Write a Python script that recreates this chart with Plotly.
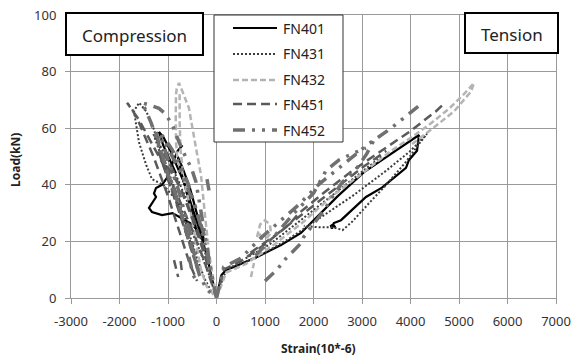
import plotly.graph_objects as go

N = None

# ---- data (strain in 10^-6, load in kN); None separates loading cycles ----
fn401_x = [0, -80, -200, -350, -500, -650, -800, -950, -1100, -1186, -1100, -1000, -900, -835, N,
           -300, -500, -700, -907, -1124, -1330, -1392, -1330, -1247, -1289, -1247, -1124, -1000, -900, -800, -700, N,
           -250, -400, -550, -700, -800, -720, -600, -480, -380, N,
           0, 100, 200, 361, 835, 1330, 1742, 2010, 2500, 3041, 3600, 4175, 4134, 3969, 3907, 3763, 3412, 3082,
           2732, 2567, 2420, 2381, 2360, 2400, 2450]
fn401_y = [0, 6, 15, 24, 32, 40, 46, 52, 57, 58.7, 54, 50, 46, 44, N,
           22, 26, 28, 30, 29.3, 30.4, 31.8, 33.6, 35.7, 37, 38.9, 40, 43, 48, 52, 54, N,
           20, 30, 39, 46, 50, 44, 36, 28, 22, N,
           0, 8, 10, 11, 14.5, 18.7, 23, 27.5, 36, 44.5, 51, 57.6, 52, 48.8, 46, 44, 39, 35.7,
           30, 27.5, 26.5, 24.5, 25.5, 26, 25]

fn431_x = [0, -150, -350, -600, -850, -1100, -1330, -1450, -1598, -1701, -1598, -1450, -1300, -1150, -1000,
           -850, -700, -550, -400, -250, -100, N,
           -200, -400, -600, -800, -1000, -1200, -1300, -1200, -1050, -900, -750, -600, -450, N,
           0, 150, 300, 800, 1500, 2200, 2800, 3500, 4000, 4340, 4200, 3900, 3500, 3144, 2800, 2600, 2400,
           2100, 1800, N,
           600, 1100, 1700, 2300, 2900, 3400]
fn431_y = [0, 8, 17, 27, 35, 40, 42, 47, 55, 66, 69, 66, 60, 52, 45,
           38, 30, 22, 14, 7, 2, N,
           14, 25, 34, 42, 49, 55, 58, 53, 46, 39, 31, 23, 15, N,
           0, 8, 11, 14, 21, 29, 36, 45, 52, 58, 55, 48, 40, 33.5, 27, 24, 25,
           25, 25.5, N,
           14, 19, 27, 35, 43, 50]

fn432_x = [0, -80, -155, -230, -320, -423, -500, -567, -680, -773, -820, -835, -840, -835, -800, -711, -650,
           -580, -505, -420, -320, -200, 0, N,
           -760, -760, -740, -700, N,
           0, 200, 600, 1200, 1800, 2381, 3000, 3600, 4000, 4443, 4800, 5100, 5309, 5250, 4900, 4500, 4000, N,
           835, 900, 1000, 1100, 1124, 1050, 950, 870, N,
           711, 740, 773]
fn432_y = [0, 8, 16, 28, 43.5, 53, 60, 67, 72, 76, 74, 72, 64, 55, 48, 45, 40,
           35, 27.5, 20, 10, 4, 0, N,
           72, 62, 52, 46, N,
           0, 9, 12, 19, 27, 36, 44, 52, 56.5, 62, 67, 72, 76, 73, 66, 60.5, 54, N,
           21.5, 26, 27.5, 26, 23, 21.5, 21, 23, N,
           7.4, 10, 12.4]

fn451_x = [0, -100, -250, -450, -650, -850, -1124, -1350, -1600, -1845, -1750, -1600, -1450, -1300, -1150,
           -1000, -850, -700, -550, -400, N,
           -100, -300, -500, -700, -900, -1050, -1200, -1100, -950, -800, -650, -500, N,
           -150, -350, -550, -750, -950, -1100, -1000, -850, -700, -550, -400, N,
           -876, -830, -790, N, -740, -711, N,
           0, 150, 500, 1000, 1500, 1701, 2200, 2800, 3400, 4000, 4526, 4650, N,
           700, 1200, 1800, 2400, 3000, 3500]
fn451_y = [0, 5, 13, 22, 30, 38, 48, 55, 63, 69, 67, 62, 56, 50, 43,
           36, 28, 20, 12, 6, N,
           7, 18, 28, 37, 45, 50, 52, 47, 40, 32, 24, 16, N,
           12, 22, 31, 39, 45, 48, 42, 35, 27, 19, 11, N,
           13.4, 10, 7.4, N, 13, 9, N,
           0, 10, 13, 19, 26, 30, 37, 45, 52, 59, 66, 68, N,
           16, 22, 30, 38, 46, 52]

fn452_x = [0, -100, -216, -320, -423, -520, -629, -770, -907, -1050, -1186, -1350, -1536, -1450, -1350, -1250,
           -1150, -1050, -950, -850, -750, -650, -550, -450, -350, -200, 0, N,
           -150, -300, -450, -600, -750, -900, -1050, -1150, -1100, -1000, -900, -800, -700, -600, -500, -400, N,
           -250, -450, -650, -850, -1000, -1150, -1250, -1150, -1050, -900, -750, -600, -450, N,
           -196, -180, -155, N,
           -567, -520, -480, -420, N, -450, -380, N,
           0, 150, 500, 900, 1300, 1700, 2100, 2600, 3100, 3600, 4216, N,
           1000, 1250, 1400, 1600, 1750, 1800, 2070, 2216, 2400, 2600, 2900, 3100, 3300, N,
           800, 1200, 1600, 2000, 2258, 2526, 2800, 3082]
fn452_y = [0, 8, 20, 30, 41, 46, 49.5, 55, 61, 65, 67, 68, 69, 66, 62, 57,
           52, 47, 42, 37, 31, 25, 19, 13, 8, 3, 0, N,
           12, 24, 33, 41, 47, 52, 56, 58, 54, 49, 44, 39, 33, 27, 20, 14, N,
           22, 33, 41, 48, 53, 57, 59, 52, 46, 39, 31, 23, 15, N,
           42, 40, 38, N,
           14.5, 11, 8, 6.4, N, 14, 10, N,
           0, 11, 14, 21, 27, 33, 40, 47, 54, 60, 68.5, N,
           6, 10, 13.4, 17, 19.5, 21.6, 27.5, 31, 36, 41, 46, 51, 57.5, N,
           15, 22, 30, 37, 45, 48.8, 51, 53]

names = ["FN401", "FN431", "FN432", "FN451", "FN452"]
xs = [fn401_x, fn431_x, fn432_x, fn451_x, fn452_x]
ys = [fn401_y, fn431_y, fn432_y, fn451_y, fn452_y]
styles = [
    dict(color="#000000", width=2.2, dash="solid"),
    dict(color="#3c3c3c", width=2, dash="2px,2px"),
    dict(color="#b4b4b4", width=2.5, dash="6px,3px"),
    dict(color="#5a5a5a", width=2.5, dash="9px,5px"),
    dict(color="#707070", width=3.5, dash="12px,7px,3px,7px,3px,7px"),
]

x_ticks = [-3000, -2000, -1000, 0, 1000, 2000, 3000, 4000, 5000, 6000, 7000]
y_ticks = [0, 20, 40, 60, 80, 100]

# plot-area geometry in pixels (for converting paper positions)
L, R, T, B = 71, 556, 15, 298
def px(xp):
    return (xp - L) / (R - L)
def py(yp):
    return (B - yp) / (B - T)

fig = go.Figure()
for name, x, y, st in zip(names, xs, ys, styles):
    fig.add_trace(go.Scatter(x=x, y=y, mode="lines", name=name, line=st,
                             connectgaps=False, showlegend=False))

font_family = "Noto Sans, DejaVu Sans, sans-serif"
axis_common = dict(showgrid=True, gridcolor="#9a9a9a", gridwidth=1, zeroline=False,
                   showline=True, linecolor="#9a9a9a", linewidth=1, mirror=True,
                   ticks="outside", ticklen=5, tickcolor="#9a9a9a", automargin=False,
                   tickfont=dict(family=font_family, size=13, color="#333333"))

fig.update_layout(
    width=575, height=360,
    margin=dict(l=L, r=575 - R, t=T, b=360 - B, autoexpand=False),
    paper_bgcolor="white", plot_bgcolor="white",
    showlegend=False,
    xaxis=dict(range=[-3000, 7000], tickvals=x_ticks, ticktext=[str(v) for v in x_ticks],
               ticklabelstandoff=6, **axis_common),
    yaxis=dict(range=[0, 100], tickvals=y_ticks, ticktext=[str(v) for v in y_ticks],
               ticklabelstandoff=6, **axis_common),
)

# axis titles
fig.add_annotation(text="<b>Strain(10*-6)</b>", xref="paper", yref="paper", x=px(318), y=py(348),
                   xanchor="center", yanchor="middle", showarrow=False,
                   font=dict(family=font_family, size=12, color="#222"))
fig.add_annotation(text="<b>Load(kN)</b>", xref="paper", yref="paper", x=px(15), y=py(160),
                   xanchor="center", yanchor="middle", showarrow=False, textangle=-90,
                   font=dict(family=font_family, size=12, color="#222"))

# boxed labels
fig.add_shape(type="rect", xref="paper", yref="paper", x0=px(66), x1=px(203), y0=py(55), y1=py(13),
              line=dict(color="black", width=2), fillcolor="white", layer="above")
fig.add_shape(type="rect", xref="paper", yref="paper", x0=px(465), x1=px(558), y0=py(53), y1=py(13),
              line=dict(color="black", width=2), fillcolor="white", layer="above")
fig.add_annotation(text="Compression", xref="paper", yref="paper", x=px(134.5), y=py(36),
                   xanchor="center", yanchor="middle", showarrow=False,
                   font=dict(family=font_family, size=17, color="#222"))
fig.add_annotation(text="Tension", xref="paper", yref="paper", x=px(511.5), y=py(35),
                   xanchor="center", yanchor="middle", showarrow=False,
                   font=dict(family=font_family, size=17, color="#222"))

# legend box drawn with the series styles
fig.add_shape(type="rect", xref="paper", yref="paper", x0=px(214), x1=px(343), y0=py(142), y1=py(15),
              line=dict(color="#333333", width=1), fillcolor="white", layer="above")
leg_y = [28, 54, 80, 104, 130]
for name, st, yy in zip(names, styles, leg_y):
    fig.add_shape(type="line", xref="paper", yref="paper", x0=px(233), x1=px(277), y0=py(yy), y1=py(yy),
                  line=dict(color=st["color"], width=st["width"], dash=st["dash"]), layer="above")
    fig.add_annotation(text=name, xref="paper", yref="paper", x=px(281), y=py(yy),
                       xanchor="left", yanchor="middle", showarrow=False,
                       font=dict(family=font_family, size=14, color="#222"))

fig.write_html("out.html", config={"displayModeBar": False},
               post_script="document.body.style.margin='0';document.body.style.overflow='hidden';")
